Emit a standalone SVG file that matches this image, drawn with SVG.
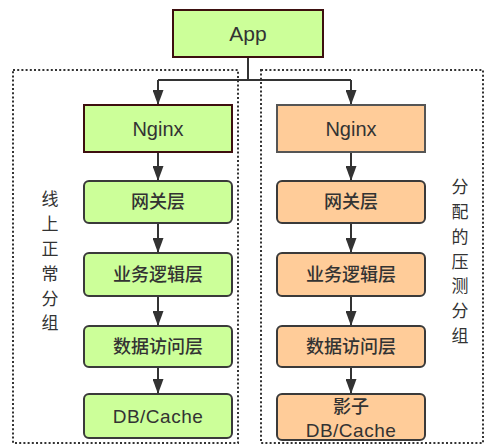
<svg xmlns="http://www.w3.org/2000/svg" width="486" height="445" viewBox="0 0 486 445">
<defs>
<marker id="ah" markerUnits="userSpaceOnUse" markerWidth="15" markerHeight="11" viewBox="0 0 15 11" refX="15" refY="5.5" orient="auto">
<path d="M0,0 L15,5.5 L0,11 Z" fill="#333"/>
</marker>
<style>
.grp{fill:none;stroke:#333;stroke-width:2;stroke-dasharray:2 2.2}
.g{fill:#ccff99}
.o{fill:#ffcc99}
.sq{stroke:#3d0f0f;stroke-width:2}
.sqo{stroke:#555;stroke-width:2}
.rd{stroke:#3a3a3a;stroke-width:2}
.t{font-family:"Liberation Sans","Noto Sans CJK SC",sans-serif;fill:#333;text-anchor:middle}
.cn{font-family:"Noto Sans CJK SC",sans-serif;fill:#333;text-anchor:middle;font-size:18px;font-weight:500}
.vt{font-family:"Noto Sans CJK SC",sans-serif;fill:#333;text-anchor:middle;font-size:17px}
.c{fill:none;stroke:#333;stroke-width:2}
</style>
</defs>
<rect width="486" height="445" fill="#fff"/>
<g id="group-online">
<rect class="grp" x="13" y="70" width="225" height="373"/>
<text class="vt" x="50" y="205">线</text>
<text class="vt" x="50" y="230">上</text>
<text class="vt" x="50" y="255">正</text>
<text class="vt" x="50" y="280">常</text>
<text class="vt" x="50" y="305">分</text>
<text class="vt" x="50" y="329">组</text>
</g>
<g id="group-test">
<rect class="grp" x="261" y="70" width="222" height="373"/>
<text class="vt" x="460" y="193">分</text>
<text class="vt" x="460" y="218">配</text>
<text class="vt" x="460" y="243">的</text>
<text class="vt" x="460" y="268">压</text>
<text class="vt" x="460" y="292">测</text>
<text class="vt" x="460" y="317">分</text>
<text class="vt" x="460" y="342">组</text>
</g>
<g id="connectors">
<path class="c" d="M248 57 V80 M158 80 H351"/>
<path class="c" d="M158 80 V105" marker-end="url(#ah)"/>
<path class="c" d="M351 80 V105" marker-end="url(#ah)"/>
<path class="c" d="M158 152 V181" marker-end="url(#ah)"/>
<path class="c" d="M158 223 V253" marker-end="url(#ah)"/>
<path class="c" d="M158 296 V326" marker-end="url(#ah)"/>
<path class="c" d="M158 367 V394" marker-end="url(#ah)"/>
<path class="c" d="M351 152 V181" marker-end="url(#ah)"/>
<path class="c" d="M351 223 V253" marker-end="url(#ah)"/>
<path class="c" d="M351 296 V326" marker-end="url(#ah)"/>
<path class="c" d="M351 367 V394" marker-end="url(#ah)"/>
</g>
<g id="app">
<rect class="g sq" x="173" y="10" width="150" height="47"/>
<text class="t" x="248" y="41" font-size="21">App</text>
</g>
<g id="nginx-online">
<rect class="g sq" x="84" y="105" width="148" height="47"/>
<text class="t" x="158" y="136" font-size="20">Nginx</text>
</g>
<g id="gateway-online">
<rect class="g rd" x="84" y="181" width="148" height="42" rx="5"/>
<text class="cn" x="158" y="208">网关层</text>
</g>
<g id="biz-online">
<rect class="g rd" x="84" y="253" width="148" height="43" rx="5"/>
<text class="cn" x="158" y="281">业务逻辑层</text>
</g>
<g id="dao-online">
<rect class="g rd" x="84" y="326" width="148" height="41" rx="5"/>
<text class="cn" x="158" y="353">数据访问层</text>
</g>
<g id="db-online">
<rect class="g rd" x="84" y="394" width="148" height="44" rx="5"/>
<text class="t" x="158" y="423" font-size="19" letter-spacing="0.5">DB/Cache</text>
</g>
<g id="nginx-test">
<rect class="o sqo" x="277" y="105" width="148" height="47"/>
<text class="t" x="351" y="136" font-size="20">Nginx</text>
</g>
<g id="gateway-test">
<rect class="o rd" x="277" y="181" width="148" height="42" rx="5"/>
<text class="cn" x="351" y="208">网关层</text>
</g>
<g id="biz-test">
<rect class="o rd" x="277" y="253" width="148" height="43" rx="5"/>
<text class="cn" x="351" y="281">业务逻辑层</text>
</g>
<g id="dao-test">
<rect class="o rd" x="277" y="326" width="148" height="41" rx="5"/>
<text class="cn" x="351" y="353">数据访问层</text>
</g>
<g id="db-test">
<rect class="o rd" x="277" y="394" width="148" height="46" rx="5"/>
<text class="cn" x="351" y="413">影子</text>
<text class="t" x="351" y="437" font-size="19" letter-spacing="0.5">DB/Cache</text>
</g>
</svg>
